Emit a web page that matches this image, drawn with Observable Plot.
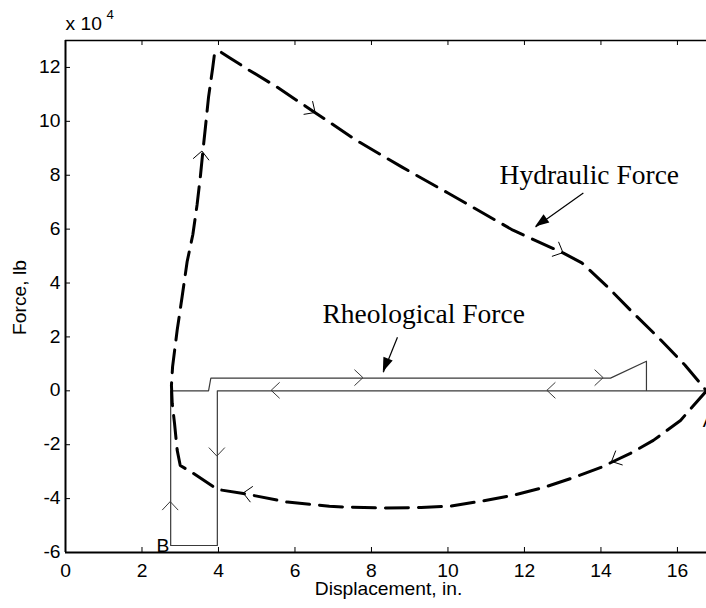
<!DOCTYPE html>
<html>
<head>
<meta charset="utf-8">
<script src="https://cdn.jsdelivr.net/npm/d3@7"></script>
<script src="https://cdn.jsdelivr.net/npm/@observablehq/plot@0.6"></script>
<style>
  html, body { margin: 0; padding: 0; background: #fff; }
</style>
</head>
<body>
<div id="chart"></div>
<script>
// Hydraulic force loop (lb ×10^4 vs displacement, in.), traced from A around the cycle
const hydraulicX = [16.76, 16.08, 15.37, 14.77, 14.0, 13.28, 12.5, 11.7, 10.85, 10.07, 9.3, 8.3, 7.4, 6.9, 5.8, 4.65, 3.97, 3.35, 3.0, 2.92, 2.85, 2.79, 2.77, 2.8, 2.92, 3.05, 3.18, 3.33, 3.44, 3.53, 3.6, 3.66, 3.74, 3.85, 3.9, 4.05, 4.3, 4.8, 5.5, 6.5, 7.6, 8.8, 10.0, 11.7, 13.02, 13.5, 14.2, 14.85, 15.5, 16.2, 16.76];
const hydraulicY = [0, -1.10, -1.84, -2.32, -2.84, -3.22, -3.59, -3.88, -4.10, -4.28, -4.33, -4.35, -4.32, -4.28, -4.13, -3.81, -3.66, -3.07, -2.77, -2.2, -1.2, -0.46, 0.2, 0.9, 2.25, 3.5, 4.79, 5.8, 6.9, 8.0, 9.0, 9.8, 10.9, 12.0, 12.55, 12.58, 12.35, 11.9, 11.3, 10.35, 9.3, 8.3, 7.34, 5.96, 5.11, 4.75, 3.82, 2.88, 1.98, 0.95, 0];

// Rheological force loop
const rheologicalX = [16.76, 3.97, 3.97, 2.75, 2.75, 3.74, 3.8, 14.25, 15.19, 15.19, 16.76];
const rheologicalY = [0, 0, -5.74, -5.74, 0, 0, 0.47, 0.47, 1.1, 0, 0];

// Direction markers: position on the curve and the local direction of travel
const hydraulicArrows = [
  {x: 3.58, y: 8.88, dx: 0.07, dy: 1},
  {x: 6.54, y: 10.31, dx: 1.1, dy: -1.05},
  {x: 13.02, y: 5.11, dx: 1.32, dy: -0.85},
  {x: 14.29, y: -2.64, dx: -0.77, dy: -0.52},
  {x: 4.66, y: -3.81, dx: -0.69, dy: 0.15}
];
const rheologicalArrows = [
  {x: 7.79, y: 0.47, dx: 1, dy: 0},
  {x: 14.07, y: 0.47, dx: 1, dy: 0},
  {x: 5.39, y: 0, dx: -1, dy: 0},
  {x: 12.6, y: 0, dx: -1, dy: 0},
  {x: 3.97, y: -2.44, dx: 0, dy: -1},
  {x: 2.75, y: -4.13, dx: 0, dy: 1}
];

// Callouts
const calloutText = ["Hydraulic Force", "Rheological Force"];
const calloutTextX = [11.35, 6.72];
const calloutTextY = [7.68, 2.51];
const calloutFromX = [13.54, 8.68];
const calloutFromY = [7.34, 1.99];
const calloutToX = [12.29, 8.31];
const calloutToY = [6.08, 0.69];

// Point labels
const pointLabels = ["A", "B"];
const pointLabelX = [16.66, 2.38];
const pointLabelY = [-1.36, -5.99];

// Axis ticks
const xTicks = [0, 2, 4, 6, 8, 10, 12, 14, 16];
const yTicks = [-6, -4, -2, 0, 2, 4, 6, 8, 10, 12];

const hydraulic = hydraulicX.map((x, i) => ({x, y: hydraulicY[i]}));
const rheological = rheologicalX.map((x, i) => ({x, y: rheologicalY[i]}));
const callouts = calloutText.map((text, i) => ({
  text, tx: calloutTextX[i], ty: calloutTextY[i],
  x1: calloutFromX[i], y1: calloutFromY[i], x2: calloutToX[i], y2: calloutToY[i]
}));
const points = pointLabels.map((text, i) => ({text, x: pointLabelX[i], y: pointLabelY[i]}));

const W = 706, H = 608;
const mTop = 40, mBottom = 56, mLeft = 65, mRight = 0;
const frameH = H - mTop - mBottom, frameW = W - mLeft - mRight;

// Open chevrons pointing along the direction of travel
function chevrons(data, {back = 8.5, spread = 8, stroke = "black", strokeWidth = 1} = {}) {
  return (index, scales) => {
    const g = d3.create("svg:g")
      .attr("fill", "none")
      .attr("stroke", stroke)
      .attr("stroke-width", strokeWidth);
    for (const d of data) {
      const px = scales.x(d.x), py = scales.y(d.y);
      const qx = scales.x(d.x + d.dx), qy = scales.y(d.y + d.dy);
      const a = Math.atan2(qy - py, qx - px);
      const ux = Math.cos(a), uy = Math.sin(a);
      const bx = px - ux * back, by = py - uy * back;
      g.append("path").attr("d",
        `M${bx - uy * spread},${by + ux * spread}L${px},${py}L${bx + uy * spread},${by - ux * spread}`);
    }
    return g.node();
  };
}

// Filled triangular heads for the callout arrows
function arrowHeads(data, {len = 14, half = 5} = {}) {
  return (index, scales) => {
    const g = d3.create("svg:g").attr("fill", "black").attr("stroke", "none");
    for (const d of data) {
      const x1 = scales.x(d.x1), y1 = scales.y(d.y1);
      const x2 = scales.x(d.x2), y2 = scales.y(d.y2);
      const a = Math.atan2(y2 - y1, x2 - x1);
      const ux = Math.cos(a), uy = Math.sin(a);
      const bx = x2 - ux * len, by = y2 - uy * len;
      g.append("path").attr("d",
        `M${x2},${y2}L${bx - uy * half},${by + ux * half}L${bx + uy * half},${by - ux * half}Z`);
    }
    return g.node();
  };
}

const sans = "Liberation Sans, Arial, Helvetica, sans-serif";
const serif = "Liberation Serif, Times New Roman, serif";

const svg = Plot.plot({
  width: W,
  height: H,
  marginTop: mTop,
  marginBottom: mBottom,
  marginLeft: mLeft,
  marginRight: mRight,
  style: {fontFamily: sans, fontSize: "17.5px", background: "#fff", color: "#000", overflow: "hidden"},
  x: {domain: [0, 16.76], ticks: xTicks, tickSize: 0, tickPadding: 12, tickFormat: d => `${d}`, label: null},
  y: {domain: [-6, 13], ticks: yTicks, tickSize: 0, tickPadding: 5, tickFormat: d => `${d}`, label: null},
  marks: [
    // inward ticks, bottom / top / left
    Plot.tickX(xTicks, {x: d => d, insetTop: frameH - 5, stroke: "black", strokeWidth: 1}),
    Plot.tickX(xTicks, {x: d => d, insetBottom: frameH - 5, stroke: "black", strokeWidth: 1}),
    Plot.tickY(yTicks, {y: d => d, insetRight: frameW - 5, stroke: "black", strokeWidth: 1}),
    // axis box lines
    Plot.ruleY([13], {stroke: "black", strokeWidth: 1.5}),
    Plot.ruleY([-6], {stroke: "black", strokeWidth: 2}),
    Plot.ruleX([0], {stroke: "black", strokeWidth: 2}),

    // rheological force
    Plot.line(rheological, {x: "x", y: "y", stroke: "#3a3a3a", strokeWidth: 1.2}),
    chevrons(rheologicalArrows, {stroke: "#3a3a3a", strokeWidth: 1}),

    // hydraulic force
    Plot.line(hydraulic, {x: "x", y: "y", stroke: "black", strokeWidth: 3, strokeDasharray: "23,10"}),
    chevrons(hydraulicArrows, {stroke: "black", strokeWidth: 1}),

    // callouts
    Plot.link(callouts, {x1: "x1", y1: "y1", x2: "x2", y2: "y2", stroke: "black", strokeWidth: 1.2}),
    arrowHeads(callouts),
    Plot.text(callouts, {x: "tx", y: "ty", text: "text", textAnchor: "start", lineAnchor: "bottom",
      fontFamily: serif, fontSize: 27.5, fill: "black"}),

    // point labels
    Plot.text(points, {x: "x", y: "y", text: "text", textAnchor: "start", lineAnchor: "bottom", fill: "black"}),

    // axis titles and exponent
    Plot.text(["Displacement, in."], {frameAnchor: "bottom", dy: 42, dx: 2.5, lineAnchor: "bottom", fill: "black"}),
    Plot.text(["Force, lb"], {frameAnchor: "left", dx: -40, dy: 1, rotate: -90, textAnchor: "middle", lineAnchor: "bottom", fill: "black"}),
    Plot.text(["x 10"], {frameAnchor: "top-left", dy: -11, textAnchor: "start", lineAnchor: "bottom", fill: "black"}),
    Plot.text(["4"], {frameAnchor: "top-left", dx: 41, dy: -22, textAnchor: "start", lineAnchor: "bottom", fontSize: 12, fill: "black"})
  ]
});

// Sans-serif text is set slightly wide
svg.querySelectorAll("text").forEach(t => {
  const g = t.closest("[font-family]");
  const fam = g && g !== svg ? g.getAttribute("font-family") : "";
  if (fam && fam.includes("Serif")) return;
  const tr = t.getAttribute("transform");
  if (tr && tr.startsWith("translate")) t.setAttribute("transform", tr + " scale(1.1,1)");
});

document.getElementById("chart").appendChild(svg);
</script>
</body>
</html>
